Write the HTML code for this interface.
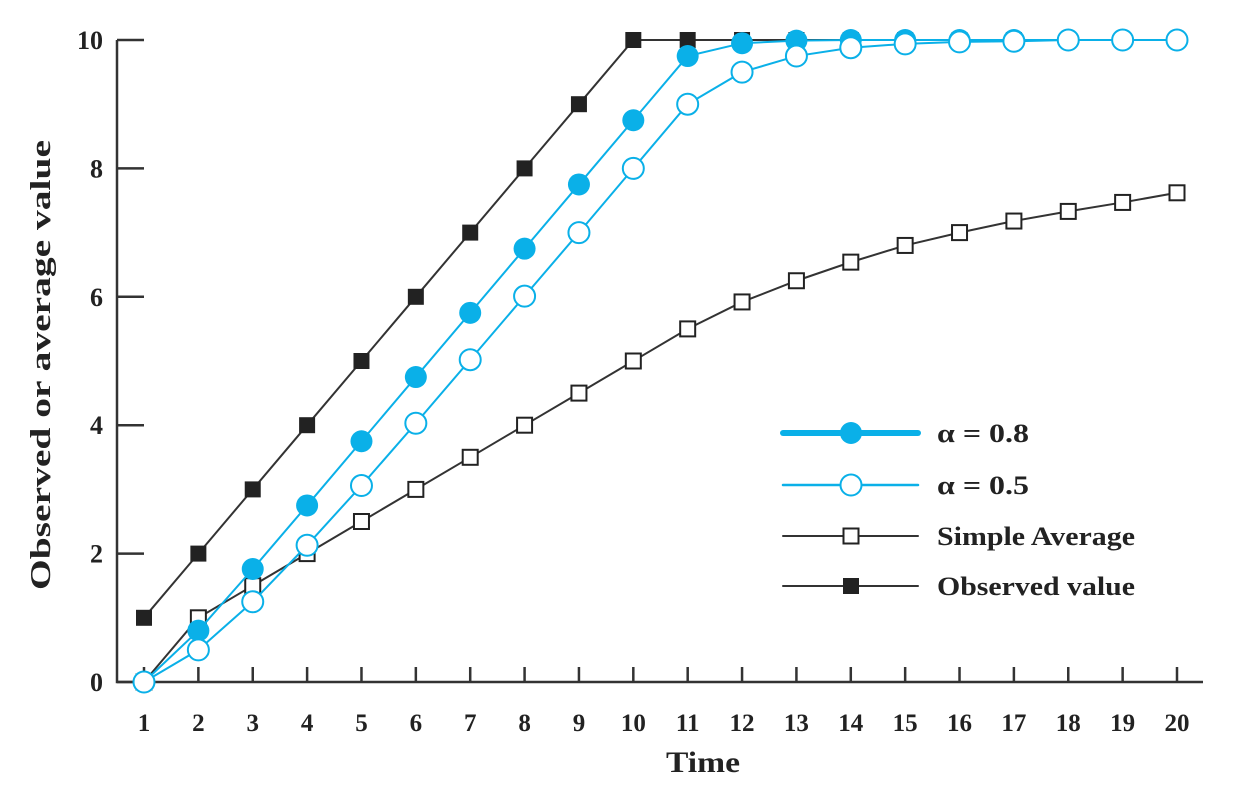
<!DOCTYPE html>
<html><head><meta charset="utf-8"><style>
body{margin:0;background:#fff}
text{font-family:"Liberation Serif",serif;font-weight:bold;fill:#222}
</style></head><body>
<svg width="1258" height="786">
<g id="axes"></g>
<g id="series"></g>
<g id="legend"></g>
<text x="50" y="365" font-size="28" text-anchor="middle" textLength="450" lengthAdjust="spacingAndGlyphs" transform="rotate(-90 50 365)">Observed or average value</text>
<text x="703" y="772" font-size="30" text-anchor="middle" textLength="74" lengthAdjust="spacingAndGlyphs">Time</text>
</svg>
<script>
const times=[1,2,3,4,5,6,7,8,9,10,11,12,13,14,15,16,17,18,19,20];
const observed=[1,2,3,4,5,6,7,8,9,10,10,10,10,10,10,10,10,10,10,10];
const alpha08=[0,0.8,1.76,2.75,3.75,4.75,5.75,6.75,7.75,8.75,9.75,9.95,9.99,10,10,10,10,10,10,10];
const alpha05=[0,0.5,1.25,2.13,3.06,4.03,5.02,6.01,7.0,8.0,9.0,9.5,9.75,9.88,9.94,9.97,9.98,10,10,10];
const simpleAvg=[0,1,1.5,2,2.5,3,3.5,4,4.5,5,5.5,5.92,6.25,6.54,6.8,7.0,7.18,7.33,7.47,7.62];
const yTicks=[0,2,4,6,8,10];
const NS="http://www.w3.org/2000/svg";
const X=t=>144+(t-1)*(1177-144)/19;
const Y=v=>682-v*64.2;
function mk(tag,a,p){const e=document.createElementNS(NS,tag);for(const k in a)e.setAttribute(k,a[k]);p.appendChild(e);return e;}
const ax=document.getElementById('axes');
let e=mk('path',{d:`M117 ${Y(10)} V682 H1203`,fill:'none',stroke:'#333','stroke-width':2.5},ax);


yTicks.forEach(v=>{
 let t=mk('line',{x1:117,x2:144,y1:Y(v),y2:Y(v),stroke:'#333','stroke-width':2.5},ax);
 
 
 let l=mk('text',{x:103,y:Y(v)+9,'font-size':26,'text-anchor':'end'},ax);l.textContent=v;
 
 
});
times.forEach(t=>{
 let k=mk('line',{x1:X(t),x2:X(t),y1:667,y2:682,stroke:'#333','stroke-width':2.5},ax);
 
 
 let l=mk('text',{x:X(t),y:731,'font-size':25,'text-anchor':'middle'},ax);l.textContent=t;
 
 
});
const sg=document.getElementById('series');
const blue='#0ab0e8';
function series(vals,name,col,w,marker){
 const g=mk('g',{},sg);
 
 
 mk('polyline',{points:vals.map((v,i)=>X(times[i])+','+Y(v)).join(' '),fill:'none',stroke:col,'stroke-width':w},g);
 vals.forEach((v,i)=>{const m=marker(g,X(times[i]),Y(v));});
}
const sqOpen=(g,x,y)=>mk('rect',{x:x-7.5,y:y-7.5,width:15,height:15,fill:'#fff',stroke:'#222','stroke-width':2},g);
const sqFill=(g,x,y)=>mk('rect',{x:x-8,y:y-8,width:16,height:16,fill:'#222'},g);
const cFill=(g,x,y)=>mk('circle',{cx:x,cy:y,r:11,fill:blue},g);
const cOpen=(g,x,y)=>mk('circle',{cx:x,cy:y,r:10.5,fill:'#fff',stroke:blue,'stroke-width':2},g);
series(observed,'observed-series','#333',2,sqFill);
series(simpleAvg,'simple-average-series','#333',2,sqOpen);
series(alpha08,'alpha-08-series',blue,2,cFill);
series(alpha05,'alpha-05-series',blue,2,cOpen);
const lg=document.getElementById('legend');
const items=[['α = 0.8',blue,6,cFill,433,92],['α = 0.5',blue,2.5,cOpen,485,92],['Simple Average','#333',2,sqOpen,536,198],['Observed value','#333',2,sqFill,586,198]];
items.forEach(([lab,col,w,m,y,len])=>{
 const g=mk('g',{},lg);
 
 
 mk('line',{x1:783,x2:918,y1:y,y2:y,stroke:col,'stroke-width':w,'stroke-linecap':'round'},g);
 m(g,851,y);
 const t=mk('text',{x:937,y:y+9,'font-size':26,textLength:len,lengthAdjust:'spacingAndGlyphs'},g);t.textContent=lab;
});
</script>
</body></html>
